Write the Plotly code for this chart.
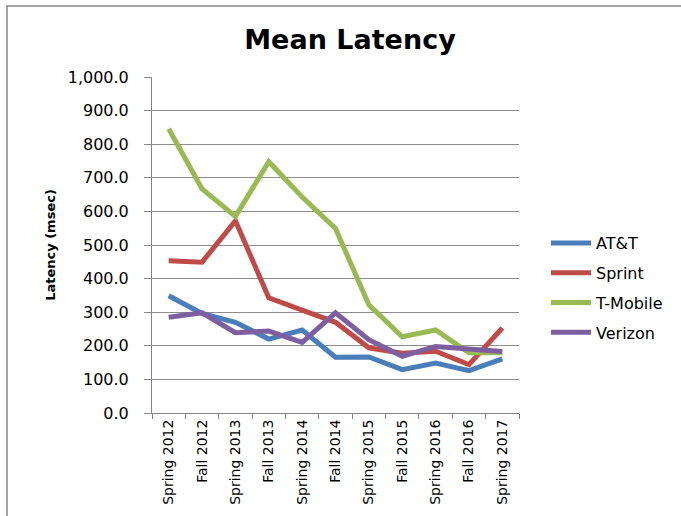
import plotly.graph_objects as go

categories = ["Spring 2012", "Fall 2012", "Spring 2013", "Fall 2013", "Spring 2014",
              "Fall 2014", "Spring 2015", "Fall 2015", "Spring 2016", "Fall 2016", "Spring 2017"]
att = [349, 296, 270, 220, 247, 166, 167, 129, 149, 126, 161]
sprint = [453, 449, 572, 343, 306, 270, 194, 178, 184, 144, 253]
tmobile = [846, 667, 585, 748, 643, 549, 322, 227, 247, 179, 179]
verizon = [285, 298, 239, 244, 210, 298, 218, 169, 198, 191, 183]

series = [("AT&T", att, "#4A7EBB"), ("Sprint", sprint, "#BE4B48"),
          ("T-Mobile", tmobile, "#98B954"), ("Verizon", verizon, "#7D5FA0")]

fig = go.Figure()
for name, vals, col in series:
    fig.add_trace(go.Scatter(x=categories, y=vals, name=name, mode="lines",
                             line=dict(color=col, width=5), legendgroup=name))

L, R, T, B = 152, 519, 77, 413
W, H = 681, 516
FONT = "DejaVu Sans, sans-serif"
fig.update_layout(
    width=W, height=H,
    margin=dict(l=L, r=W - R, t=T, b=H - B),
    paper_bgcolor="white", plot_bgcolor="white",
    font=dict(family=FONT, color="black"),
    title=dict(text="<b>Mean Latency</b>", x=350 / W, xanchor="center",
               y=1 - 40 / H, yanchor="middle", font=dict(size=27)),
    showlegend=True,
    legend=dict(x=(546 - L) / (R - L), xanchor="left", y=(B - 288) / (B - T), yanchor="middle",
                font=dict(size=16), traceorder="grouped", tracegroupgap=6,
                bgcolor="rgba(0,0,0,0)", itemwidth=40),
    xaxis=dict(type="category", range=[-0.5, 10.5], tickangle=-90,
               tickfont=dict(size=14), showgrid=False, showline=True,
               linecolor="#868686", linewidth=1, ticks="outside", tickson="boundaries",
               ticklen=5, tickcolor="#868686"),
    yaxis=dict(range=[0, 1000], dtick=100, tickformat=",.1f", tickfont=dict(size=16),
               showgrid=True, gridcolor="#8C8C8C", gridwidth=1, showline=True,
               linecolor="#868686", linewidth=1, ticks="outside", ticklen=7,
               tickcolor="#868686", zeroline=False, ticklabelstandoff=12,
               title=dict(text="<b>Latency (msec)</b>", font=dict(size=13), standoff=9)),
)

def px(x):
    return (x - L) / (R - L)

def py(y):
    return (B - y) / (B - T)

fig.add_shape(type="rect", xref="paper", yref="paper",
              x0=px(7), x1=px(700), y0=py(6), y1=py(530),
              line=dict(color="#868686", width=1.5), fillcolor="rgba(0,0,0,0)")

fig.write_html("out.html", config={"displayModeBar": False},
               post_script="document.body.style.margin='0px';")
